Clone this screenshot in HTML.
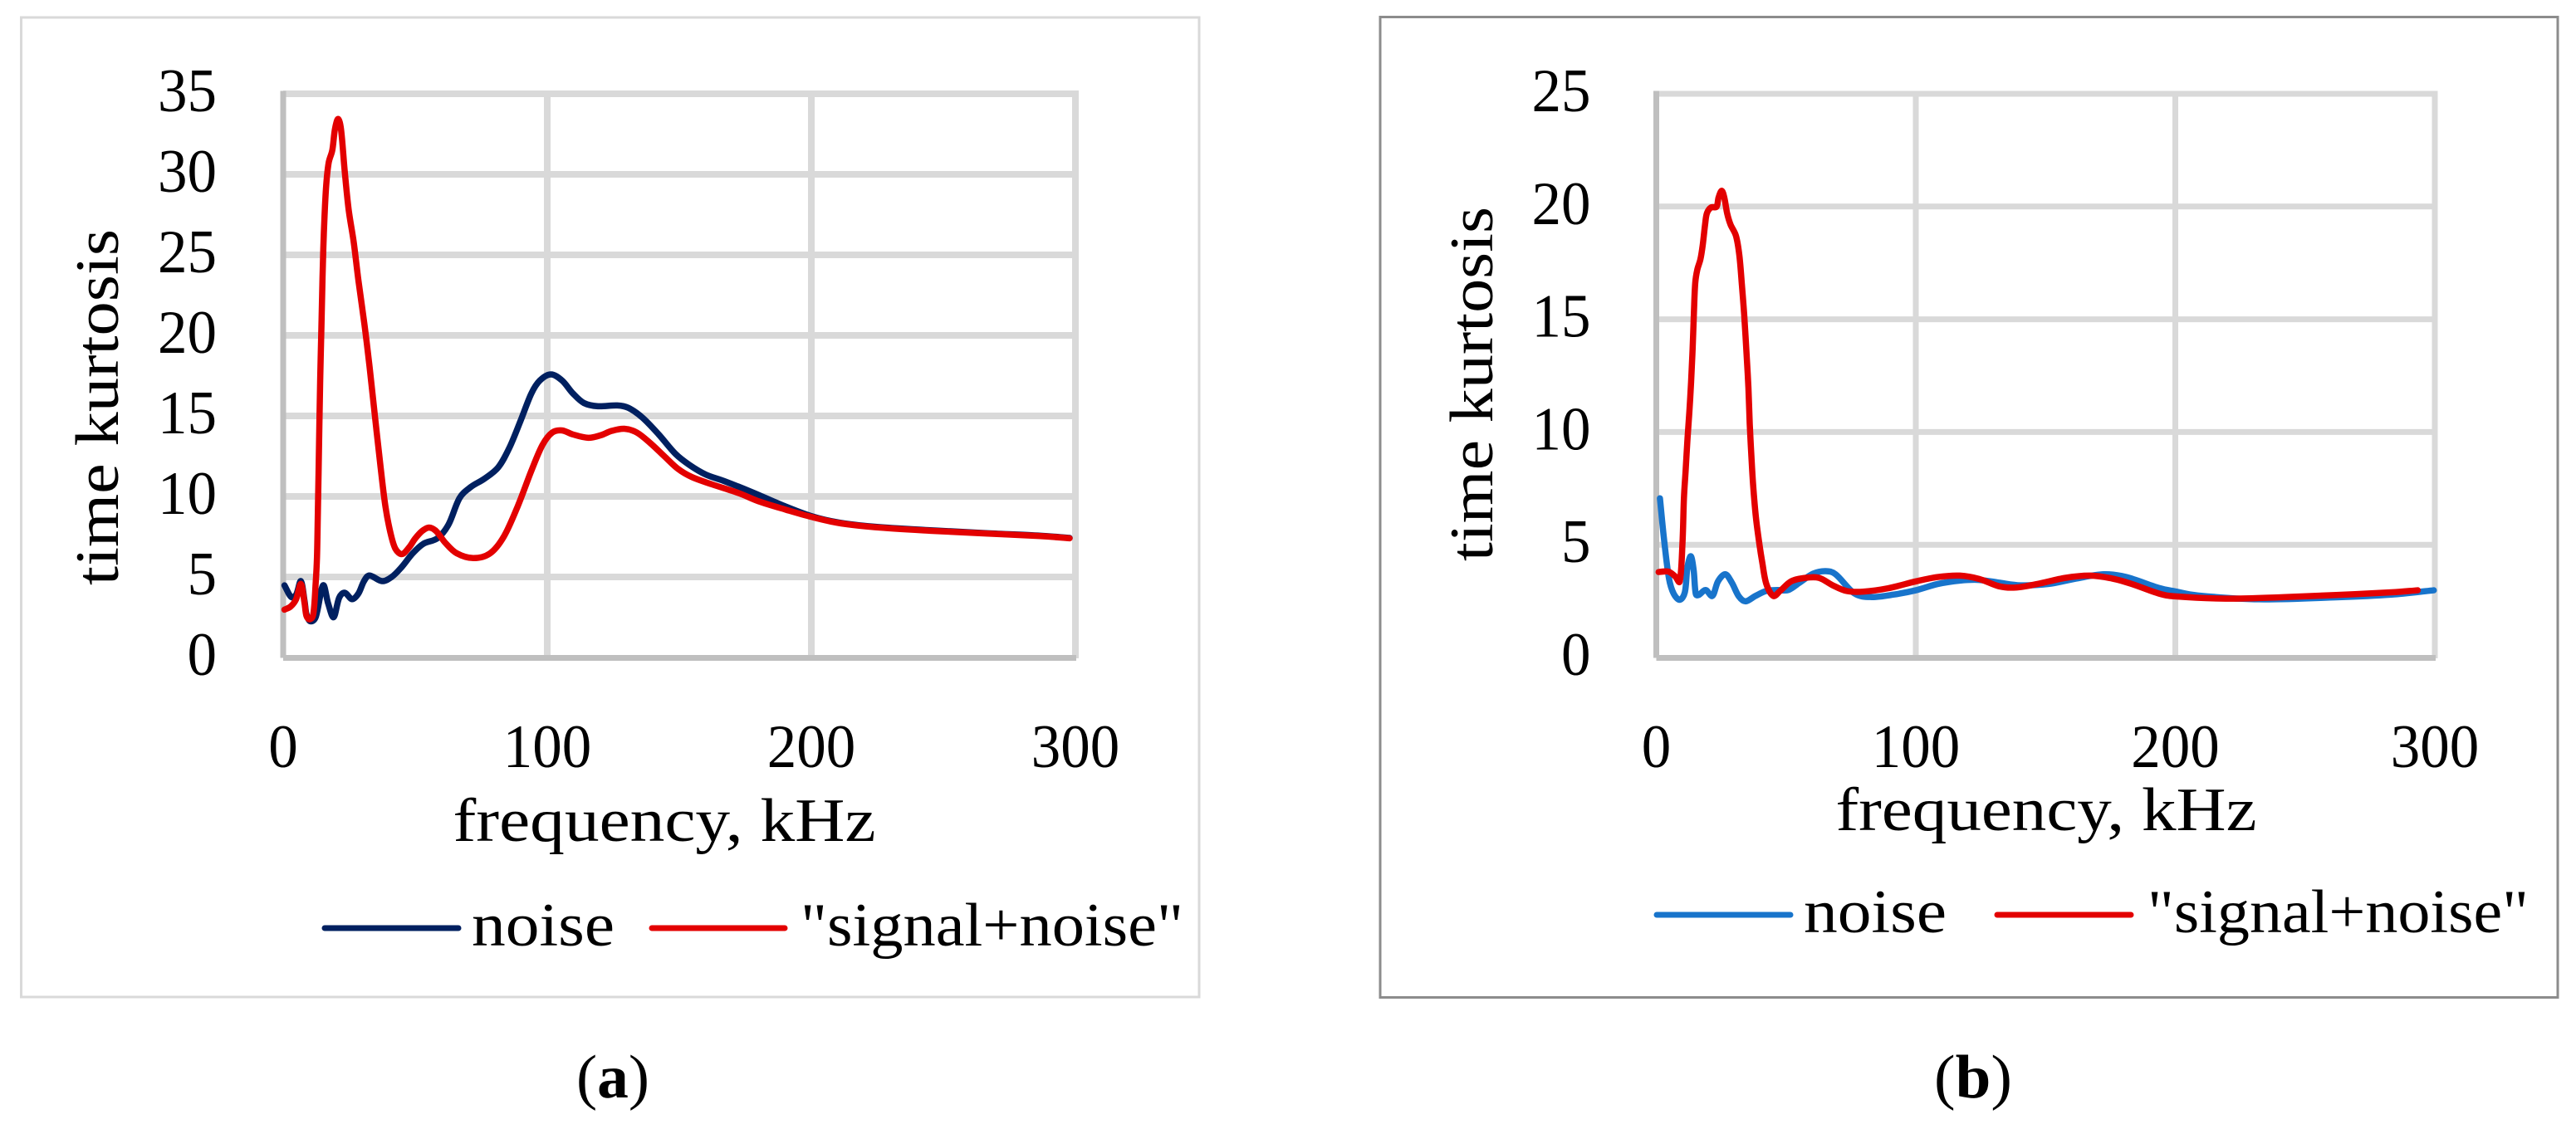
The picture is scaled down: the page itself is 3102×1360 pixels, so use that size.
<!DOCTYPE html>
<html lang="en">
<head>
<meta charset="utf-8">
<title>Time kurtosis vs frequency</title>
<style>
html,body{margin:0;padding:0;background:#fff;width:3102px;height:1360px;overflow:hidden}
svg{display:block}
text{font-family:"Liberation Serif",serif;fill:#000}
</style>
</head>
<body>
<svg id="fig" xmlns="http://www.w3.org/2000/svg" width="3102" height="1360" viewBox="0 0 3102 1360">
  <rect x="25.5" y="21" width="1418.5" height="1180" fill="#fff" stroke="#d9d9d9" stroke-width="3"/>
  <rect x="1662" y="20.5" width="1418" height="1181" fill="#fff" stroke="#8c8c8c" stroke-width="3"/>
  <g id="chart-a"></g>
  <g id="chart-b"></g>

  <text transform="translate(142,490.5) rotate(-90)" text-anchor="middle" font-size="74" textLength="429" lengthAdjust="spacingAndGlyphs">time kurtosis</text>
  <text x="800" y="1013" text-anchor="middle" font-size="74" textLength="509" lengthAdjust="spacingAndGlyphs">frequency, kHz</text>
  <line x1="391" y1="1118" x2="552" y2="1118" stroke="#002060" stroke-width="7" stroke-linecap="round"/>
  <text x="568" y="1139" font-size="74" textLength="172" lengthAdjust="spacingAndGlyphs">noise</text>
  <line x1="785" y1="1118" x2="945" y2="1118" stroke="#e30000" stroke-width="7" stroke-linecap="round"/>
  <text x="964" y="1139" font-size="74" textLength="461" lengthAdjust="spacingAndGlyphs">"signal+noise"</text>
  <text x="694" y="1322" font-size="74" textLength="88" lengthAdjust="spacingAndGlyphs">(<tspan font-weight="bold">a</tspan>)</text>

  <text transform="translate(1797,462.5) rotate(-90)" text-anchor="middle" font-size="74" textLength="427" lengthAdjust="spacingAndGlyphs">time kurtosis</text>
  <text x="2464" y="1000" text-anchor="middle" font-size="74" textLength="507" lengthAdjust="spacingAndGlyphs">frequency, kHz</text>
  <line x1="1995" y1="1102" x2="2156" y2="1102" stroke="#1874cb" stroke-width="7" stroke-linecap="round"/>
  <text x="2172" y="1123" font-size="74" textLength="172" lengthAdjust="spacingAndGlyphs">noise</text>
  <line x1="2405" y1="1102" x2="2566" y2="1102" stroke="#e30000" stroke-width="7" stroke-linecap="round"/>
  <text x="2586" y="1123" font-size="74" textLength="459" lengthAdjust="spacingAndGlyphs">"signal+noise"</text>
  <text x="2329" y="1322" font-size="74" textLength="94" lengthAdjust="spacingAndGlyphs">(<tspan font-weight="bold">b</tspan>)</text>
</svg>
<script>
var xTicks = [0, 100, 200, 300];
var aYTicks = [0, 5, 10, 15, 20, 25, 30, 35];
var bYTicks = [0, 5, 10, 15, 20, 25];

var aNoiseFreq = [0.5, 3, 4.9, 6.7, 8.1, 8.8, 10.2, 12.3, 15.1, 17, 19.1, 21.2, 23.3, 26.1, 28.5, 30.6, 32.7, 37.4, 41.1, 44.8, 49, 53.1, 58.4, 62.6, 66.8, 71, 76.2, 81.4, 85.6, 89.9, 94, 97.2, 101.4, 105.6, 109.7, 113.9, 119.2, 126.5, 130.7, 136, 142.2, 148.5, 153.8, 160, 167.4, 177.9, 188.4, 200, 210.4, 223.9, 245, 266, 286.8, 297.8];
var aNoiseVals = [4.48, 3.76, 3.9, 4.74, 3.5, 2.7, 2.25, 2.5, 4.48, 3.37, 2.5, 3.71, 4.02, 3.62, 3.97, 4.74, 5.09, 4.74, 5, 5.6, 6.46, 7.06, 7.4, 8.25, 9.9, 10.58, 11.1, 11.8, 13, 14.7, 16.4, 17.2, 17.58, 17.2, 16.4, 15.8, 15.6, 15.65, 15.5, 14.9, 13.85, 12.65, 11.96, 11.36, 10.93, 10.24, 9.5, 8.78, 8.38, 8.12, 7.9, 7.72, 7.56, 7.42];
var aSignalFreq = [0.5, 2.8, 4.9, 6.7, 8.1, 8.8, 10, 11.4, 12.3, 12.8, 13.1, 13.4, 13.7, 14.05, 14.5, 14.9, 15.4, 16.2, 17.2, 18.6, 19.6, 20.8, 21.9, 23.3, 24.8, 26.7, 28.5, 30.8, 32.7, 34.8, 36.9, 38.7, 40.6, 42.5, 45, 47.7, 50, 52.6, 55.2, 57.9, 61.5, 65.7, 72, 78.3, 83.5, 88.8, 94, 98.2, 101.9, 105.6, 109.7, 115.5, 120.3, 124.4, 129.2, 133.9, 139.1, 144.3, 149.6, 154.8, 162.2, 172.6, 180, 190.5, 200, 210.4, 223.9, 245, 266, 286.8, 297.8];
var aSignalVals = [2.97, 3.16, 3.62, 4.57, 3.37, 2.59, 2.37, 2.68, 4.6, 6.2, 8.7, 11.44, 14.4, 17.5, 20.65, 23.6, 26.35, 29.1, 30.7, 31.5, 32.8, 33.44, 32.8, 30.2, 27.8, 25.8, 23.4, 20.65, 18.07, 14.9, 11.8, 9.4, 7.76, 6.75, 6.42, 6.84, 7.39, 7.85, 8.07, 7.85, 7.1, 6.47, 6.17, 6.46, 7.49, 9.38, 11.6, 13.2, 13.97, 14.1, 13.85, 13.64, 13.8, 14.07, 14.2, 13.97, 13.3, 12.5, 11.7, 11.2, 10.76, 10.2, 9.7, 9.17, 8.73, 8.35, 8.09, 7.87, 7.7, 7.54, 7.4];

var bNoiseFreq = [1.4, 3, 4.9, 6.7, 9.05, 11, 12, 13.3, 14.4, 15.2, 16.3, 19, 21.6, 23.8, 26.6, 29.1, 31.8, 34.4, 38.2, 42.4, 46.7, 50.8, 55.2, 60.5, 65.3, 69.1, 76.5, 82.9, 91.5, 100, 108.5, 117, 124.4, 132, 140.4, 151.2, 161.8, 172.4, 181, 193.8, 200, 208.7, 232.2, 262, 283.3, 299.6];
var bNoiseVals = [7.06, 5.22, 3.5, 2.83, 2.56, 2.89, 4, 4.49, 3.87, 2.83, 2.77, 2.99, 2.73, 3.38, 3.69, 3.32, 2.71, 2.49, 2.73, 2.95, 2.99, 2.99, 3.32, 3.72, 3.83, 3.69, 2.83, 2.68, 2.79, 2.98, 3.26, 3.41, 3.44, 3.32, 3.2, 3.26, 3.5, 3.69, 3.57, 3.08, 2.93, 2.75, 2.58, 2.67, 2.79, 2.98];
var bSignalFreq = [0.9, 4.6, 7.25, 9.05, 10.1, 10.65, 11.3, 12.05, 12.8, 13.4, 14, 14.5, 15, 15.8, 17, 17.9, 18.8, 19.5, 21.1, 23.2, 24, 25.2, 26.2, 27.3, 28.6, 30.7, 32, 33, 33.9, 34.8, 35.5, 36, 36.6, 37.3, 38.4, 39.8, 40.8, 42.4, 45.1, 47.7, 52, 57.3, 62.7, 68, 73.3, 79.7, 89.3, 100.2, 108.5, 117, 124.5, 132, 138.4, 146.9, 157.6, 167.2, 175.7, 183.2, 193.8, 200, 219.4, 240.7, 262, 283.3, 293.4];
var bSignalVals = [3.79, 3.81, 3.6, 3.38, 5.1, 7.06, 8.28, 9.75, 11, 12.2, 13.7, 15.3, 16.6, 17.2, 17.66, 18.3, 19.2, 19.7, 19.96, 19.99, 20.4, 20.7, 20.4, 19.7, 19.2, 18.7, 17.84, 16.5, 15.15, 13.43, 11.96, 10.37, 9.02, 7.67, 6.2, 4.97, 4.24, 3.26, 2.73, 2.95, 3.38, 3.53, 3.53, 3.2, 2.95, 2.92, 3.07, 3.38, 3.57, 3.63, 3.48, 3.16, 3.1, 3.26, 3.53, 3.63, 3.5, 3.26, 2.83, 2.71, 2.61, 2.67, 2.77, 2.89, 2.98];

var SVGNS = 'http://www.w3.org/2000/svg';

function svgEl(tag, parent) {
  var el = document.createElementNS(SVGNS, tag);
  parent.appendChild(el);
  return el;
}

/* Smooth path through the marks (centripetal Hermite), like the spreadsheet's smoothed line */
function smoothPath(px, py) {
  var n = px.length, t = [0], i;
  for (i = 1; i < n; i++) {
    t[i] = t[i - 1] + Math.sqrt(Math.hypot(px[i] - px[i - 1], py[i] - py[i - 1])) + 0.001;
  }
  function slope(a, k) {
    var lo = Math.max(k - 1, 0), hi = Math.min(k + 1, n - 1);
    return (a[hi] - a[lo]) / (t[hi] - t[lo]);
  }
  var d = 'M' + px[0].toFixed(2) + ' ' + py[0].toFixed(2);
  for (i = 0; i < n - 1; i++) {
    var h = (t[i + 1] - t[i]) / 3;
    d += 'C' + (px[i] + slope(px, i) * h).toFixed(2) + ' ' + (py[i] + slope(py, i) * h).toFixed(2) + ' ' +
      (px[i + 1] - slope(px, i + 1) * h).toFixed(2) + ' ' + (py[i + 1] - slope(py, i + 1) * h).toFixed(2) + ' ' +
      px[i + 1].toFixed(2) + ' ' + py[i + 1].toFixed(2);
  }
  return d;
}

function drawChart(cfg) {
  var root = document.getElementById(cfg.id);
  var xMax = xTicks[xTicks.length - 1];
  var yMax = cfg.yTicks[cfg.yTicks.length - 1];
  function xScale(v) { return cfg.x0 + (cfg.x1 - cfg.x0) * v / xMax; }
  function yScale(v) { return cfg.y0 + (cfg.y1 - cfg.y0) * v / yMax; }

  cfg.yTicks.forEach(function (v) {
    if (v === 0) { return; }
    var g = svgEl('line', root);
    
    
    g.setAttribute('x1', cfg.x0);
    g.setAttribute('x2', cfg.x1 + cfg.gridW / 2);
    g.setAttribute('y1', yScale(v));
    g.setAttribute('y2', yScale(v));
    g.setAttribute('stroke', '#d9d9d9');
    g.setAttribute('stroke-width', cfg.gridW);
  });
  xTicks.forEach(function (v) {
    if (v === 0) { return; }
    var g = svgEl('line', root);
    
    
    g.setAttribute('x1', xScale(v));
    g.setAttribute('x2', xScale(v));
    g.setAttribute('y1', cfg.y1 - cfg.gridW / 2);
    g.setAttribute('y2', cfg.y0 + 1);
    g.setAttribute('stroke', '#d9d9d9');
    g.setAttribute('stroke-width', cfg.gridW);
  });

  var yAxis = svgEl('line', root);
  
  
  yAxis.setAttribute('x1', cfg.x0);
  yAxis.setAttribute('x2', cfg.x0);
  yAxis.setAttribute('y1', cfg.y1 - 3.5);
  yAxis.setAttribute('y2', cfg.y0 + 0.5);
  yAxis.setAttribute('stroke', '#bfbfbf');
  yAxis.setAttribute('stroke-width', 7);

  var xAxis = svgEl('line', root);
  
  
  xAxis.setAttribute('x1', cfg.x0);
  xAxis.setAttribute('x2', cfg.x1 + 1);
  xAxis.setAttribute('y1', cfg.y0 + 0.5);
  xAxis.setAttribute('y2', cfg.y0 + 0.5);
  xAxis.setAttribute('stroke', '#bfbfbf');
  xAxis.setAttribute('stroke-width', 7);

  cfg.yTicks.forEach(function (v) {
    var t = svgEl('text', root);
    
    
    t.setAttribute('x', cfg.yLabelX);
    t.setAttribute('y', yScale(v) + 21);
    t.setAttribute('text-anchor', 'end');
    t.setAttribute('font-size', 74);
    t.setAttribute('textLength', String(v).length * 35.5);
    t.setAttribute('lengthAdjust', 'spacingAndGlyphs');
    t.textContent = v;
  });
  xTicks.forEach(function (v) {
    var t = svgEl('text', root);
    
    
    t.setAttribute('x', xScale(v));
    t.setAttribute('y', 924);
    t.setAttribute('text-anchor', 'middle');
    t.setAttribute('font-size', 74);
    t.setAttribute('textLength', String(v).length * 35.5);
    t.setAttribute('lengthAdjust', 'spacingAndGlyphs');
    t.textContent = v;
  });

  cfg.series.forEach(function (s) {
    var p = svgEl('path', root);
    
    
    p.setAttribute('d', smoothPath(s.freq.map(xScale), s.vals.map(yScale)));
    p.setAttribute('fill', 'none');
    p.setAttribute('stroke', s.color);
    p.setAttribute('stroke-width', cfg.lineW);
    p.setAttribute('stroke-linejoin', 'round');
    p.setAttribute('stroke-linecap', 'round');
  });
}

drawChart({
  id: 'chart-a', x0: 341, x1: 1295, y0: 792, y1: 113, yTicks: aYTicks, yLabelX: 261, gridW: 8, lineW: 7.5,
  series: [
    { name: 'noise-line-a', freq: aNoiseFreq, vals: aNoiseVals, color: '#002060' },
    { name: 'signal-noise-line-a', freq: aSignalFreq, vals: aSignalVals, color: '#e30000' }
  ]
});
drawChart({
  id: 'chart-b', x0: 1994.5, x1: 2932, y0: 792, y1: 113, yTicks: bYTicks, yLabelX: 1915.5, gridW: 7, lineW: 7.5,
  series: [
    { name: 'noise-line-b', freq: bNoiseFreq, vals: bNoiseVals, color: '#1874cb' },
    { name: 'signal-noise-line-b', freq: bSignalFreq, vals: bSignalVals, color: '#e30000' }
  ]
});
</script>
</body>
</html>
